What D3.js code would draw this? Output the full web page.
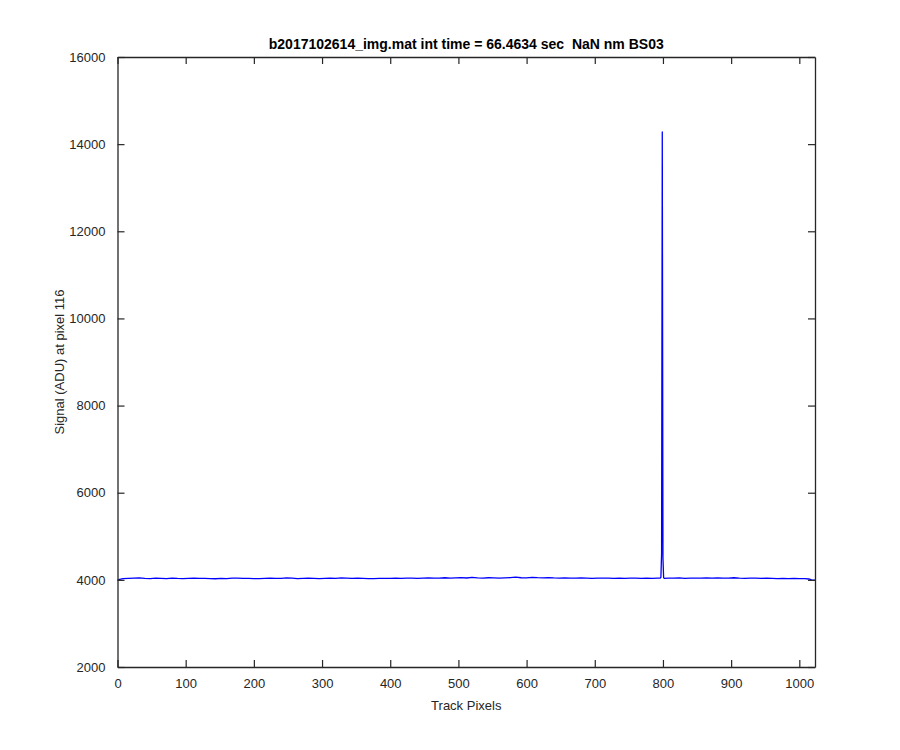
<!DOCTYPE html>
<html>
<head>
<meta charset="utf-8">
<script src="https://cdn.jsdelivr.net/npm/d3@7"></script>
<style>
  html, body { margin: 0; padding: 0; background: #ffffff; }
  svg { display: block; font-family: "Liberation Sans", Arial, Helvetica, sans-serif; }
</style>
</head>
<body>
<svg id="chart" width="900" height="750"></svg>
<script>
const titleText = "b2017102614_img.mat int time = 66.4634 sec  NaN nm BS03";
const xLabelText = "Track Pixels";
const yLabelText = "Signal (ADU) at pixel 116";

const xTicks = [0, 100, 200, 300, 400, 500, 600, 700, 800, 900, 1000];
const yTicks = [2000, 4000, 6000, 8000, 10000, 12000, 14000, 16000];
const xDomain = [0, 1023];
const yDomain = [2000, 16000];

const trackPixels = [
  0, 8, 16, 24, 32, 40, 48, 56, 64, 72, 80, 88, 96, 104, 112, 120, 128, 136, 144, 152,
  160, 168, 176, 184, 192, 200, 208, 216, 224, 232, 240, 248, 256, 264, 272, 280, 288, 296, 304, 312,
  320, 328, 336, 344, 352, 360, 368, 376, 384, 392, 400, 408, 416, 424, 432, 440, 448, 456, 464, 472,
  480, 488, 496, 504, 512, 520, 528, 536, 544, 552, 560, 568, 576, 584, 592, 600, 608, 616, 624, 632,
  640, 648, 656, 664, 672, 680, 688, 696, 704, 712, 720, 728, 736, 744, 752, 760, 768, 776, 784, 792,
  796, 797, 798, 799, 800, 801, 802,
  808, 816, 824, 832, 840, 848, 856, 864, 872, 880, 888, 896, 904, 912, 920, 928, 936, 944, 952, 960,
  968, 976, 984, 992, 1000, 1008, 1014, 1018, 1023
];
const signal = [
  4000, 4030, 4035, 4040, 4045, 4035, 4030, 4038, 4035, 4028, 4040, 4033, 4030, 4036, 4040, 4032, 4035, 4030, 4025, 4033,
  4030, 4038, 4040, 4032, 4035, 4030, 4028, 4036, 4040, 4035, 4032, 4045, 4038, 4030, 4035, 4040, 4033, 4028, 4036, 4040,
  4032, 4045, 4040, 4036, 4038, 4034, 4030, 4028, 4035, 4032, 4036, 4040, 4034, 4038, 4042, 4036, 4040, 4044, 4038, 4042,
  4048, 4040, 4045, 4050, 4043, 4055, 4046, 4042, 4048, 4045, 4040, 4046, 4050, 4062, 4048, 4045, 4058, 4050, 4046, 4052,
  4044, 4040, 4046, 4042, 4038, 4044, 4040, 4036, 4042, 4040, 4038, 4034, 4040, 4036, 4042, 4038, 4035, 4040, 4036, 4038,
  4040, 4060, 4600, 14280, 4500, 4050, 4035,
  4038, 4040, 4045, 4036, 4040, 4042, 4038, 4046, 4040, 4044, 4038, 4042, 4048, 4040, 4036, 4042, 4038, 4034, 4040, 4036,
  4030, 4034, 4030, 4032, 4028, 4030, 4020, 4000, 3995
];

const svg = d3.select("#chart");
const W = 900, H = 750;
const margin = { left: 117.5, right: 85, top: 57, bottom: 83 };
const xScale = d3.scaleLinear().domain(xDomain).range([margin.left, W - margin.right]);
const yScale = d3.scaleLinear().domain(yDomain).range([H - margin.bottom, margin.top]);

const axisColor = "#262626";
const tickLen = 7;

svg.append("defs").append("clipPath").attr("id", "clip")
  .append("rect")
  .attr("x", margin.left).attr("y", margin.top)
  .attr("width", W - margin.left - margin.right)
  .attr("height", H - margin.top - margin.bottom);

const data = trackPixels.map((p, i) => [p, signal[i]]);
svg.append("path")
  .datum(data)
  .attr("clip-path", "url(#clip)")
  .attr("fill", "none")
  .attr("stroke", "#0000ff")
  .attr("stroke-width", 1.3)
  .attr("stroke-linejoin", "round")
  .attr("d", d3.line().x(d => xScale(d[0])).y(d => yScale(d[1])));

function styleAxis(g) {
  g.select(".domain").attr("stroke", axisColor).attr("stroke-width", 1.3);
  g.selectAll(".tick line").attr("stroke", axisColor).attr("stroke-width", 1.2);
  g.selectAll(".tick text").attr("fill", axisColor).style("font-size", "13px")
    .style("font-family", '"Liberation Sans", Arial, Helvetica, sans-serif');
}

const gBottom = svg.append("g")
  .attr("transform", `translate(0,${H - margin.bottom})`)
  .call(d3.axisBottom(xScale).tickValues(xTicks).tickFormat(d3.format("d")).tickSizeInner(-tickLen).tickSizeOuter(0).tickPadding(12));
styleAxis(gBottom);

const gTop = svg.append("g")
  .attr("transform", `translate(0,${margin.top})`)
  .call(d3.axisTop(xScale).tickValues(xTicks).tickFormat("").tickSizeInner(-tickLen).tickSizeOuter(0));
styleAxis(gTop);

const gLeft = svg.append("g")
  .attr("transform", `translate(${margin.left},0)`)
  .call(d3.axisLeft(yScale).tickValues(yTicks).tickFormat(d3.format("d")).tickSizeInner(-tickLen).tickSizeOuter(0).tickPadding(12));
styleAxis(gLeft);

const gRight = svg.append("g")
  .attr("transform", `translate(${W - margin.right},0)`)
  .call(d3.axisRight(yScale).tickValues(yTicks).tickFormat("").tickSizeInner(-tickLen).tickSizeOuter(0));
styleAxis(gRight);

svg.append("text")
  .attr("x", (margin.left + W - margin.right) / 2)
  .attr("y", 49)
  .attr("text-anchor", "middle")
  .attr("fill", "#000")
  .style("font-size", "14px")
  .style("font-weight", "bold")
  .style("white-space", "pre")
  .text(titleText);

svg.append("text")
  .attr("x", (margin.left + W - margin.right) / 2)
  .attr("y", 710)
  .attr("text-anchor", "middle")
  .attr("fill", axisColor)
  .style("font-size", "13px")
  .text(xLabelText);

svg.append("text")
  .attr("transform", `translate(64,${(margin.top + H - margin.bottom) / 2}) rotate(-90)`)
  .attr("text-anchor", "middle")
  .attr("fill", axisColor)
  .style("font-size", "13px")
  .text(yLabelText);
</script>
</body>
</html>
